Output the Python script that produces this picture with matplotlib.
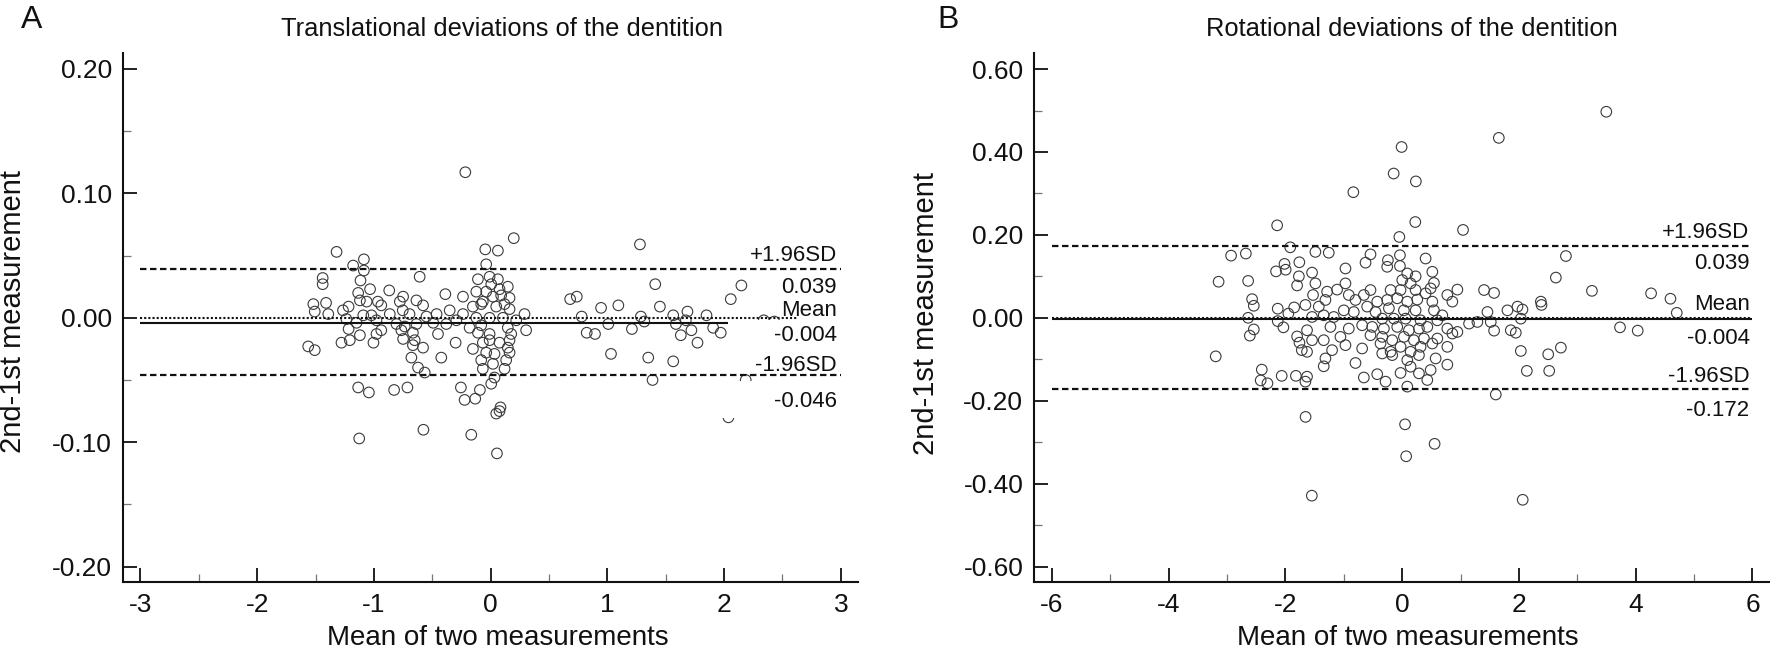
import matplotlib
matplotlib.use("Agg")
import matplotlib.pyplot as plt
from matplotlib.patches import Rectangle
from matplotlib.ticker import MultipleLocator, FormatStrFormatter

plt.rcParams['font.family'] = ['Liberation Sans', 'DejaVu Sans']
plt.rcParams['axes.unicode_minus'] = False

# Panel A: translational deviations (mean of two, 2nd-1st)
a_x = [
    -0.217, 0.198, -1.320, -0.046, 0.062, -1.178, -1.086, -1.086, -0.038, -1.439,
    -1.439, -0.608, -1.115, -1.033, -0.109, -0.009, 0.062, 0.005, 0.147, -0.869,
    -0.388, -0.237, -1.519, -1.410, -1.135, -1.120, -1.062, -0.966, -0.937, -0.750,
    -0.778, -0.636, -0.579, -1.507, -1.391, -1.265, -1.217, -1.091, -1.021, -0.864,
    -0.753, -0.695, -0.550, -0.463, -0.351, -0.237, -0.152, -0.067, 0.020, 0.090,
    0.119, 0.162, 0.290, 0.048, -0.123, -0.009, 0.105, 0.219, -1.236, -1.149,
    -0.978, -0.807, -0.736, -0.636, -0.492, -0.380, -0.294, -0.180, -0.081, 0.147,
    0.304, -1.217, -1.207, -1.278, -1.120, -1.004, -0.978, -0.937, -0.765, -0.750,
    -0.666, -0.651, -0.666, -0.579, -0.451, -0.300, -0.152, -0.109, -0.067, -0.009,
    -0.038, 0.076, 0.147, 0.162, 0.033, 0.133, -0.081, 0.020, -0.067, -0.679,
    -0.622, -0.565, -0.423, 0.119, -1.563, -1.507, 0.033, 0.005, -1.135, -1.043,
    -0.827, -0.713, -0.255, -0.223, -0.132, -0.092, 0.084, 0.076, 0.048, -1.126,
    -0.576, -0.166, 0.054, -0.123, -0.038, 0.076, -0.081, 0.162, 0.176, 0.162, -0.009,
    1.279, 1.410, 2.148, 2.057, 0.681, 0.738, 0.946, 1.094, 1.450, 1.686,
    0.780, 1.287, 1.564, 1.849, 1.008, 1.316, 1.587, 1.672, 0.823, 0.894,
    1.210, 1.720, 1.629, 1.906, 1.971, 1.772, 1.031, 1.350, 1.564, 1.387,
    2.185, 2.037, 2.34, 2.43,
]
a_y = [
    0.117, 0.064, 0.053, 0.055, 0.054, 0.042, 0.047, 0.038, 0.043, 0.032,
    0.027, 0.033, 0.030, 0.023, 0.031, 0.033, 0.031, 0.027, 0.025, 0.022,
    0.019, 0.017, 0.011, 0.012, 0.020, 0.014, 0.013, 0.013, 0.010, 0.017,
    0.013, 0.014, 0.010, 0.005, 0.003, 0.006, 0.009, 0.002, 0.002, 0.003,
    0.006, 0.003, 0.001, 0.003, 0.006, 0.003, 0.009, 0.013, 0.017, 0.018,
    0.011, 0.007, 0.003, 0.009, 0.000, 0.000, 0.000, -0.002, -0.001, -0.004,
    -0.002, -0.005, -0.007, -0.005, -0.004, -0.005, -0.002, -0.008, -0.006, -0.008,
    -0.010, -0.009, -0.018, -0.020, -0.014, -0.020, -0.013, -0.010, -0.010, -0.017,
    -0.012, -0.018, -0.022, -0.024, -0.013, -0.020, -0.025, -0.012, -0.020, -0.018,
    -0.028, -0.020, -0.024, -0.028, -0.029, -0.034, -0.034, -0.037, -0.041, -0.032,
    -0.040, -0.044, -0.032, -0.041, -0.023, -0.026, -0.048, -0.053, -0.056, -0.060,
    -0.058, -0.056, -0.056, -0.066, -0.065, -0.058, -0.072, -0.075, -0.077, -0.097,
    -0.090, -0.094, -0.109, 0.021, 0.021, 0.023, 0.011, 0.016, -0.013, -0.018, -0.013,
    0.059, 0.027, 0.026, 0.015, 0.015, 0.017, 0.008, 0.010, 0.009, 0.005,
    0.001, 0.001, 0.002, 0.002, -0.005, -0.003, -0.005, -0.002, -0.012, -0.013,
    -0.009, -0.010, -0.014, -0.008, -0.012, -0.020, -0.029, -0.032, -0.035, -0.050,
    -0.050, -0.080, -0.002, -0.003,
]

# Panel B: rotational deviations
b_x = [
    -1.487, -1.258, -0.543, -0.628, -0.245, -0.039, 0.401, -0.257, -0.039, -0.972,
    -1.544, 0.516, 0.087, 0.230, 0.001, 0.544, 0.144, -0.972, -1.487, -1.286,
    -1.115, -1.527, -0.543, -0.657, -0.199, -0.028, 0.230, 0.401, 0.487, 0.773,
    0.945, 0.859, 1.402, 1.574, 1.975, 1.803, 1.460, 2.032, -0.915, -0.800,
    -0.428, -0.257, -0.085, 0.087, 0.258, 0.516, -1.658, -1.429, -1.315, -1.000,
    -0.829, -0.600, -0.457, -0.228, 0.029, 0.230, 0.544, 0.687, -1.344, -1.172,
    -1.544, -0.342, -0.142, 0.058, 0.315, 0.602, 1.145, 1.288, 1.517, -1.630,
    -1.229, -0.915, -0.686, -0.514, -0.314, -0.085, 0.115, 0.287, 0.430, 0.773,
    0.859, 0.945, 1.574, 1.860, 1.946, -1.544, -1.344, -1.058, -0.543, -0.342,
    -0.171, 0.029, 0.201, 0.373, 0.602, 0.773, -1.630, -1.201, -0.972, -0.686,
    -0.371, -0.199, -0.028, 0.144, 0.315, 0.516, -1.315, -1.344, -0.800, -0.342,
    -0.171, 0.087, 0.287, 0.144, 0.573, 0.773, 0.487, 0.287, -0.028, -0.428,
    -0.657, -0.285, 0.087, 0.430, -1.630, -1.658, 1.603,
    2.804, 2.632, 3.250, 4.263, 4.595, 4.703, 2.375, 2.386, 2.060, 3.731,
    4.034, 2.032, 2.501, 2.718, 2.135, 2.518,
    3.496, 1.655, -0.010, -0.146, 0.234, -0.837, 0.224, -2.142, 1.042, -0.049,
    -1.918, -2.931, -2.678, -3.145, -2.639, -2.161, -1.996, -1.762, -2.016, -2.571,
    -2.542, -2.639, -2.610, -2.542, -3.194, -2.132, -2.132, -2.035, -2.405, -2.424,
    -2.308, -2.064, -1.821, -1.655, -1.548, 0.049, 0.068, 0.555, 2.064, -1.800,
    -1.770, -1.950, -1.850, -1.800, -1.760, -1.720,
]
b_y = [
    0.159, 0.157, 0.153, 0.133, 0.139, 0.151, 0.143, 0.123, 0.125, 0.119,
    0.109, 0.111, 0.107, 0.100, 0.091, 0.084, 0.083, 0.083, 0.083, 0.063,
    0.068, 0.055, 0.067, 0.055, 0.067, 0.067, 0.067, 0.059, 0.071, 0.055,
    0.068, 0.039, 0.067, 0.060, 0.027, 0.018, 0.014, -0.002, 0.055, 0.043,
    0.039, 0.043, 0.047, 0.039, 0.044, 0.039, 0.031, 0.027, 0.043, 0.018,
    0.014, 0.027, 0.014, 0.023, 0.018, 0.018, 0.018, 0.006, 0.006, 0.002,
    0.002, -0.002, -0.002, -0.002, -0.006, -0.006, -0.014, -0.010, -0.010, -0.030,
    -0.022, -0.026, -0.018, -0.022, -0.026, -0.022, -0.030, -0.026, -0.022, -0.026,
    -0.038, -0.034, -0.031, -0.030, -0.036, -0.054, -0.054, -0.046, -0.042, -0.046,
    -0.054, -0.046, -0.054, -0.050, -0.050, -0.070, -0.082, -0.078, -0.066, -0.074,
    -0.062, -0.082, -0.070, -0.082, -0.070, -0.062, -0.098, -0.117, -0.109, -0.086,
    -0.090, -0.102, -0.090, -0.118, -0.098, -0.113, -0.126, -0.134, -0.133, -0.136,
    -0.144, -0.154, -0.166, -0.150, -0.142, -0.154, -0.185,
    0.149, 0.097, 0.065, 0.059, 0.046, 0.012, 0.039, 0.031, 0.020, -0.023,
    -0.031, -0.080, -0.088, -0.072, -0.128, -0.128,
    0.497, 0.434, 0.412, 0.348, 0.329, 0.303, 0.231, 0.223, 0.212, 0.195,
    0.170, 0.150, 0.155, 0.087, 0.089, 0.112, 0.116, 0.134, 0.130, 0.045,
    0.029, 0.000, -0.043, -0.028, -0.093, 0.022, -0.008, -0.023, -0.125, -0.151,
    -0.158, -0.140, -0.140, -0.239, -0.429, -0.257, -0.334, -0.304, -0.439, 0.078,
    0.100, 0.010, 0.025, -0.045, -0.060, -0.078,
]

# reference lines: mean, +1.96SD, -1.96SD (as drawn) and the printed numbers
a_mean, a_upper, a_lower = -0.004, 0.039, -0.046
b_mean, b_upper, b_lower = -0.004, 0.172, -0.172
a_texts = ['+1.96SD', '0.039', 'Mean', '-0.004', '-1.96SD', '-0.046']
b_texts = ['+1.96SD', '0.039', 'Mean', '-0.004', '-1.96SD', '-0.172']

W, H = 1770, 653
fig = plt.figure(figsize=(W / 100, H / 100), dpi=100)
axA = fig.add_axes([123.3 / W, 1 - 582.3 / H, (858 - 123.3) / W, 529 / H])
# panel B runs a little past the right edge of the picture
axB = fig.add_axes([1034.4 / W, 1 - 582.3 / H, (1770 - 1034.4) / W, 529 / H])

ink = '#111111'


def style_axis(ax, xlim, ylim, xmajor, ymajor):
    ax.set_xlim(*xlim)
    ax.set_ylim(*ylim)
    for side in ('top', 'right'):
        ax.spines[side].set_visible(False)
    for side in ('left', 'bottom'):
        ax.spines[side].set_linewidth(1.5)
        ax.spines[side].set_color(ink)
    ax.xaxis.set_major_locator(MultipleLocator(xmajor))
    ax.xaxis.set_minor_locator(MultipleLocator(xmajor / 2))
    ax.yaxis.set_major_locator(MultipleLocator(ymajor))
    ax.yaxis.set_minor_locator(MultipleLocator(ymajor / 2))
    ax.yaxis.set_major_formatter(FormatStrFormatter('%.2f'))
    ax.xaxis.set_major_formatter(FormatStrFormatter('%d'))
    ax.tick_params(which='major', direction='in', length=10, width=1.3,
                   color=ink, labelsize=19, labelcolor=ink)
    ax.tick_params(which='minor', direction='in', length=5.5, width=0.9,
                   color='#777777')
    ax.tick_params(axis='y', which='major', pad=8)
    ax.tick_params(axis='x', which='major', pad=8)


def draw_panel(ax, xs, ys, lim, mean, upper, lower, texts, offsets, xr):
    ax.scatter(xs, ys, s=58, facecolors='none', edgecolors='#3a3a3a',
               linewidths=0.8, zorder=2)
    ax.hlines(mean, -lim, lim, colors=ink, linewidth=1.5, zorder=2.2)
    ax.hlines(0, -lim, lim, colors=ink, linewidth=1.5,
              linestyles=(0, (1, 1)), zorder=2.2)
    for yv in (upper, lower):
        ax.hlines(yv, -lim, lim, colors=ink, linewidth=1.6,
                  linestyles=(0, (2.9, 1.6)), zorder=3)
    anchors = [upper, upper, 0, mean, lower, lower]
    for txt, yv, dy in zip(texts, anchors, offsets):
        ax.annotate(txt, xy=(xr, yv), xytext=(0, dy), textcoords='offset points',
                    ha='right', va='center_baseline', fontsize=16,
                    color=ink, zorder=4)


style_axis(axA, (-3.147, 3.147), (-0.2126, 0.2126), 1, 0.1)
style_axis(axB, (-6.30, 6.30), (-0.638, 0.638), 2, 0.2)

draw_panel(axA, a_x, a_y, 3, a_mean, a_upper, a_lower, a_texts,
           [11.5, -11.3, 7.2, -7.2, 8.4, -17.3], 2.966)
draw_panel(axB, b_x, b_y, 6, b_mean, b_upper, b_lower, b_texts,
           [12.0, -10.6, 11.2, -12.1, 10.8, -13.8], 5.95)

# white label boxes in panel A that hide part of the lines and points
for x0, y0, x1, y1 in [(2.03, -0.035, 3.2, -0.0015),
                       (1.98, -0.0802, 3.2, -0.0505),
                       (2.63, -0.0015, 3.2, 0.02)]:
    axA.add_patch(Rectangle((x0, y0), x1 - x0, y1 - y0, facecolor='white',
                            edgecolor='none', zorder=2.5, clip_on=False))

# titles, axis labels and panel letters
fig.text(502 / W, 1 - 29 / H, 'Translational deviations of the dentition',
         ha='center', va='center', fontsize=18.4, color=ink)
fig.text(1412 / W, 1 - 29 / H, 'Rotational deviations of the dentition',
         ha='center', va='center', fontsize=18.4, color=ink)
fig.text(497.5 / W, 1 - 638 / H, 'Mean of two measurements',
         ha='center', va='center', fontsize=20, color=ink)
fig.text(1408 / W, 1 - 638 / H, 'Mean of two measurements',
         ha='center', va='center', fontsize=20, color=ink)
fig.text(13 / W, 1 - 311 / H, '2nd-1st measurement', rotation=90,
         ha='center', va='center', fontsize=21, color=ink)
fig.text(925.5 / W, 1 - 313 / H, '2nd-1st measurement', rotation=90,
         ha='center', va='center', fontsize=21, color=ink)
fig.text(32 / W, 1 - 17 / H, 'A', ha='center', va='center_baseline',
         fontsize=23, color=ink)
fig.text(948 / W, 1 - 17 / H, 'B', ha='center', va='center_baseline',
         fontsize=23, color=ink)

fig.savefig('out.png', dpi=100, facecolor='white')
